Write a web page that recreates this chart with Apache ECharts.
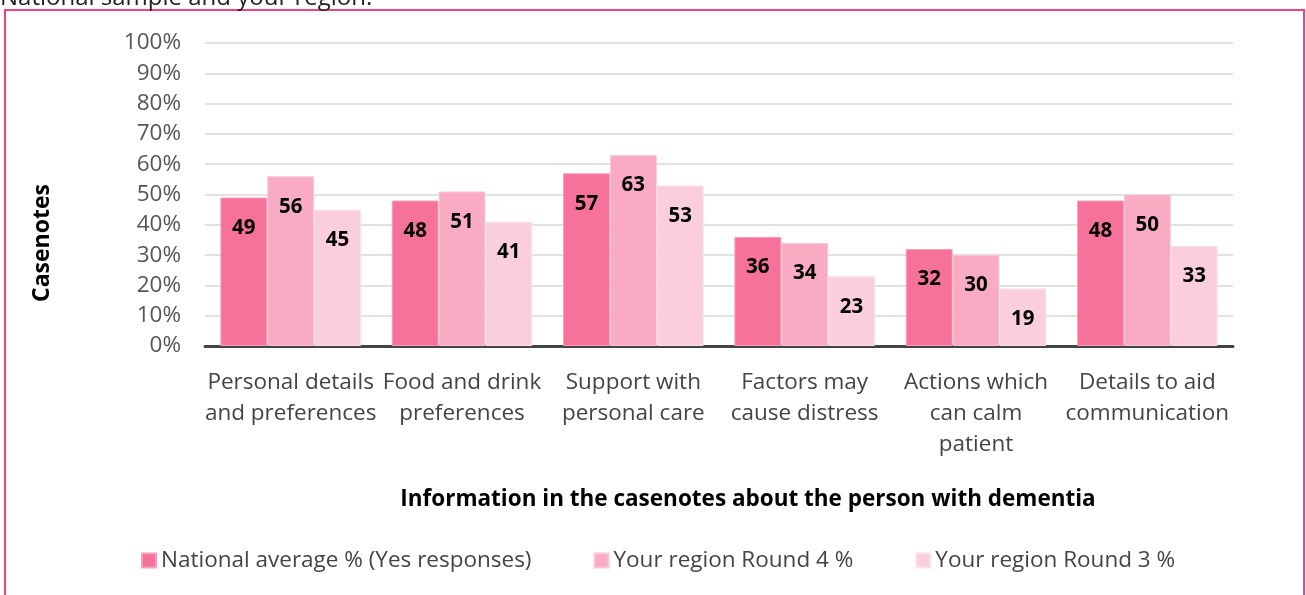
<!DOCTYPE html>
<html>
<head>
<meta charset="utf-8">
<script src="https://cdn.jsdelivr.net/npm/echarts@6/dist/echarts.min.js"></script>
<style>html,body{margin:0;padding:0;background:#fff;}#c{width:1306px;height:595px;}</style>
</head>
<body>
<div id="c"></div>
<script>
const categories = [
  "Personal details\nand preferences",
  "Food and drink\npreferences",
  "Support with\npersonal care",
  "Factors may\ncause distress",
  "Actions which\ncan calm\npatient",
  "Details to aid\ncommunication"
];
const seriesNames = ["National average % (Yes responses)", "Your region Round 4 %", "Your region Round 3 %"];
const national = [49, 48, 57, 36, 32, 48];
const round4 = [56, 51, 63, 34, 30, 50];
const round3 = [45, 41, 53, 23, 19, 33];
const colors = ["#f7729a", "#f9abc4", "#fbcedd"];
const borders = ["#fa9cb8", "#fcc6d7", "#fde0ea"];

const FONT = "Open Sans";
const chart = echarts.init(document.getElementById('c'), null, {renderer: 'canvas'});

function mk(name, data, i) {
  return {
    name: name, type: 'bar', data: data,
    barGap: '0%', barCategoryGap: '18%',
    itemStyle: {color: colors[i], borderColor: borders[i], borderWidth: 1},
    label: {show: true, position: 'insideTop', distance: 20, color: '#000', fontWeight: 'bold', fontSize: 20.5, fontFamily: FONT},
    emphasis: {disabled: true}
  };
}

chart.setOption({
  animation: false,
  textStyle: {fontFamily: FONT},
  grid: {left: 205, right: 73, top: 43, bottom: 249, containLabel: false},
  legend: {
    data: seriesNames, left: 136, top: 544, icon: 'rect', itemWidth: 14, itemHeight: 14, itemGap: 62,
    textStyle: {fontSize: 22.5, color: '#444', fontFamily: FONT}
  },
  xAxis: {
    type: 'category', data: categories,
    axisLine: {lineStyle: {color: '#444', width: 3}},
    axisTick: {show: false},
    axisLabel: {interval: 0, fontSize: 22.5, color: '#444', lineHeight: 31, margin: 21, fontFamily: FONT}
  },
  yAxis: {
    type: 'value', min: 0, max: 100, interval: 10,
    axisLabel: {formatter: '{value}%', fontSize: 22.5, color: '#555', margin: 24, fontFamily: FONT},
    splitLine: {lineStyle: {color: '#e2e2e2', width: 2}},
    axisLine: {show: false}, axisTick: {show: false}
  },
  series: [mk(seriesNames[0], national, 0), mk(seriesNames[1], round4, 1), mk(seriesNames[2], round3, 2)],
  graphic: [
    {type: 'rect', shape: {x: 5, y: 10, width: 1299, height: 620}, style: {fill: 'none', stroke: '#f0447a', lineWidth: 2}, silent: true},
    {type: 'text', left: 0, top: -14, style: {text: 'National sample and your region.', fontSize: 24, fill: '#222', fontFamily: FONT}},
    {type: 'text', x: 748, y: 500, style: {text: 'Information in the casenotes about the person with dementia', fontSize: 22.5, fontWeight: 'bold', fill: '#000', align: 'center', verticalAlign: 'middle', fontFamily: FONT}},
    {type: 'text', x: 42, y: 243, rotation: Math.PI / 2, style: {text: 'Casenotes', fontSize: 23, fontWeight: 'bold', fill: '#000', align: 'center', verticalAlign: 'middle', fontFamily: FONT}}
  ]
});
</script>
</body>
</html>
